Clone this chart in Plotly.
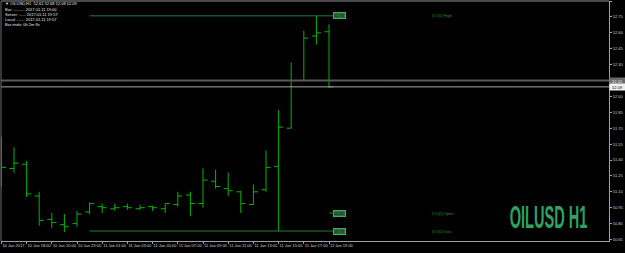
import plotly.graph_objects as go

# ---------------- data ----------------
bar_index = list(range(27))
opens  = [51.47, 51.32, 51.36, 51.06, 50.84, 50.79, 50.80, 50.91, 50.96, 50.94, 50.96, 50.94, 50.96, 50.94,
          50.98, 51.07, 50.99, 51.20, 51.13, 51.10, 50.98, 51.12, 51.34, 51.70, 52.15, 52.57, 52.61]
highs  = [51.62, 51.52, 51.39, 51.10, 50.90, 50.89, 50.92, 51.00, 50.99, 50.99, 50.99, 50.98, 50.97, 50.99,
          51.10, 51.10, 51.32, 51.31, 51.28, 51.11, 51.17, 51.49, 51.87, 52.32, 52.62, 52.76, 52.68]
lows   = [51.15, 51.28, 51.05, 50.78, 50.76, 50.72, 50.77, 50.89, 50.90, 50.92, 50.93, 50.93, 50.92, 50.90,
          50.96, 50.87, 50.95, 51.13, 51.06, 50.90, 50.98, 51.10, 50.73, 51.70, 52.15, 52.49, 52.08]
closes = [51.33, 51.37, 51.08, 50.83, 50.81, 50.77, 50.89, 50.99, 50.95, 50.95, 50.95, 50.95, 50.95, 50.99,
          51.06, 50.99, 51.21, 51.15, 51.11, 50.99, 51.10, 51.33, 51.71, 52.15, 52.55, 52.60, 52.09]

time_tick_index = list(range(0, 27, 2))
time_tick_labels = ["10 Jan 2017", "10 Jan 18:00", "10 Jan 20:00", "10 Jan 23:00", "11 Jan 01:00",
                    "11 Jan 03:00", "11 Jan 05:00", "11 Jan 07:00", "11 Jan 09:00", "11 Jan 11:00",
                    "11 Jan 13:00", "11 Jan 15:00", "11 Jan 17:00", "11 Jan 19:00"]
price_ticks = [52.90, 52.75, 52.60, 52.45, 52.30, 52.15, 52.00, 51.85, 51.70, 51.55, 51.40,
               51.25, 51.10, 50.95, 50.80, 50.65]

d1_names = ["D1 [0] High", "D1 [0] Open", "D1 [0] Low"]
d1_values = [52.76, 50.90, 50.73]
day_start_index = 7
ask_price = 52.15
bid_price = 52.09

symbol = "OILUSD,H1"
info_lines = ["Bar: .......... 2017.01.11 19:00",
              "Server: ...... 2017.01.11 19:57",
              "Local: ....... 2017.01.11 19:57",
              "Bar ends: 0h 2m 8s"]
big_label = "OILUSD H1"

# ---------------- geometry helpers ----------------
W, H = 625, 253
ML, MR, MT, MB = 1, 16, 1, 12
PX0, PX1 = ML, W - MR
PY0, PY1 = MT, H - MB
BAR0_PX, BAR_STEP = 1.4, 12.6
PX_PER_UNIT = 106.0
Y_TOP = 52.90

def px2paper_x(px):
    return (px - PX0) / (PX1 - PX0)

def px2paper_y(py):
    return (PY1 - py) / (PY1 - PY0)

x_range = [(PX0 - BAR0_PX) / BAR_STEP, (PX1 - BAR0_PX) / BAR_STEP]
y_range = [Y_TOP - (PY1 - PY0) / PX_PER_UNIT, Y_TOP]

GREEN = "#00b400"
DIM_GREEN = "#1f7f3d"

fig = go.Figure()

fig.add_trace(go.Ohlc(
    x=bar_index, open=opens, high=highs, low=lows, close=closes,
    increasing=dict(line=dict(color=GREEN, width=1)),
    decreasing=dict(line=dict(color=GREEN, width=1)),
    tickwidth=0.36, hoverinfo="skip", showlegend=False,
))

# D1 levels
box_index = (333 - BAR0_PX) / BAR_STEP
name_index = (430 - BAR0_PX) / BAR_STEP
for i, (nm, v) in enumerate(zip(d1_names, d1_values)):
    x_start = day_start_index if i != 1 else box_index - 0.3
    fig.add_trace(go.Scatter(x=[x_start, box_index], y=[v, v], mode="lines",
                             line=dict(color=DIM_GREEN, width=1), hoverinfo="skip", showlegend=False))
    fig.add_annotation(x=box_index, y=v, xref="x", yref="y", text=f"{v:.2f}", showarrow=False,
                       xanchor="left", yanchor="middle", font=dict(size=4, color="#0b1f10", family="Liberation Sans"),
                       bgcolor="#2f6d3e", bordercolor="#3fae5a", borderwidth=1, borderpad=0)
    fig.add_annotation(x=name_index, y=v, xref="x", yref="y", text=nm, showarrow=False,
                       xanchor="left", yanchor="middle", font=dict(size=4, color="#2a8f48", family="Liberation Sans"))

# ask / bid lines
fig.add_shape(type="line", xref="paper", yref="y", x0=0, x1=1, y0=ask_price, y1=ask_price,
              line=dict(color="#5a5a5a", width=2))
fig.add_shape(type="line", xref="paper", yref="y", x0=0, x1=1, y0=bid_price, y1=bid_price,
              line=dict(color="#a8a8a8", width=1))
fig.add_annotation(x=1, y=ask_price, xref="paper", yref="y", text=f"{ask_price:.2f}", showarrow=False,
                   xanchor="left", yanchor="middle", font=dict(size=4, color="#f0f0f0", family="Liberation Sans"),
                   bgcolor="#6a6a6a", borderpad=0.5, width=14)
fig.add_annotation(x=1, y=bid_price, xref="paper", yref="y", text=f"{bid_price:.2f}", showarrow=False,
                   xanchor="left", yanchor="middle", font=dict(size=4, color="#000000", family="Liberation Sans"),
                   bgcolor="#f0f0f0", borderpad=0.5, width=14)

# borders (left / top)
fig.add_shape(type="line", xref="paper", yref="paper", x0=0, x1=0, y0=0, y1=1,
              line=dict(color="#6e6e6e", width=1))
fig.add_shape(type="line", xref="paper", yref="paper", x0=0, x1=1, y0=1, y1=1,
              line=dict(color="#4a4a4a", width=2))

# header text
fig.add_annotation(x=px2paper_x(3), y=px2paper_y(4), xref="paper", yref="paper",
                   text=f"▼ {symbol}  {opens[-1]:.2f} {highs[-1]:.2f} {lows[-1]:.2f} {closes[-1]:.2f}",
                   showarrow=False, xanchor="left", yanchor="middle",
                   font=dict(size=4, color="#e8e8e8", family="Liberation Sans"))
for k, line in enumerate(info_lines):
    fig.add_annotation(x=px2paper_x(3), y=px2paper_y(9.5 + 4.9 * k), xref="paper", yref="paper",
                       text=line, showarrow=False, xanchor="left", yanchor="middle",
                       font=dict(size=4, color="#e8e8e8", family="Liberation Sans"))

# big symbol label (condensed horizontally by a CSS transform after rendering)
fig.add_annotation(x=px2paper_x(589), y=px2paper_y(217), xref="paper", yref="paper",
                   text=f"<b>{big_label}</b>", showarrow=False, xanchor="right", yanchor="middle",
                   name="biglabel",
                   font=dict(size=31, color="#2fa25f", family="Liberation Sans, sans-serif"))

fig.update_layout(
    width=W, height=H, margin=dict(l=ML, r=MR, t=MT, b=MB, pad=0),
    paper_bgcolor="black", plot_bgcolor="black", showlegend=False,
    xaxis=dict(range=x_range, tickmode="array", tickvals=time_tick_index, ticktext=time_tick_labels,
               ticks="outside", ticklen=2, tickcolor="#a0a0a0", ticklabelposition="outside right",
               tickangle=0,
               tickfont=dict(size=4, color="#d0d0d0", family="Liberation Sans"),
               showgrid=False, zeroline=False, showline=True, linecolor="#a0a0a0", linewidth=1,
               rangeslider=dict(visible=False), fixedrange=True),
    yaxis=dict(range=y_range, side="right", tickmode="array", tickvals=price_ticks,
               ticktext=[f"{v:.2f}" for v in price_ticks],
               ticks="outside", ticklen=2, tickcolor="#a0a0a0",
               tickfont=dict(size=4, color="#d0d0d0", family="Liberation Sans"),
               showgrid=False, zeroline=False, showline=True, linecolor="#a0a0a0", linewidth=1,
               fixedrange=True),
)

post_js = """
(function(){
  var gd = document.getElementById('{plot_id}');
  function squeeze(){
    var nodes = gd.querySelectorAll('.annotation-text');
    nodes.forEach(function(t){
      if (t.textContent.trim() === '%s') {
        t.style.transformBox = 'fill-box';
        t.style.transformOrigin = 'right center';
        t.style.transform = 'scaleX(0.47)';
      }
    });
  }
  squeeze();
  gd.on && gd.on('plotly_afterplot', squeeze);
})();
""" % big_label

fig.write_html("out.html", post_script=post_js)
